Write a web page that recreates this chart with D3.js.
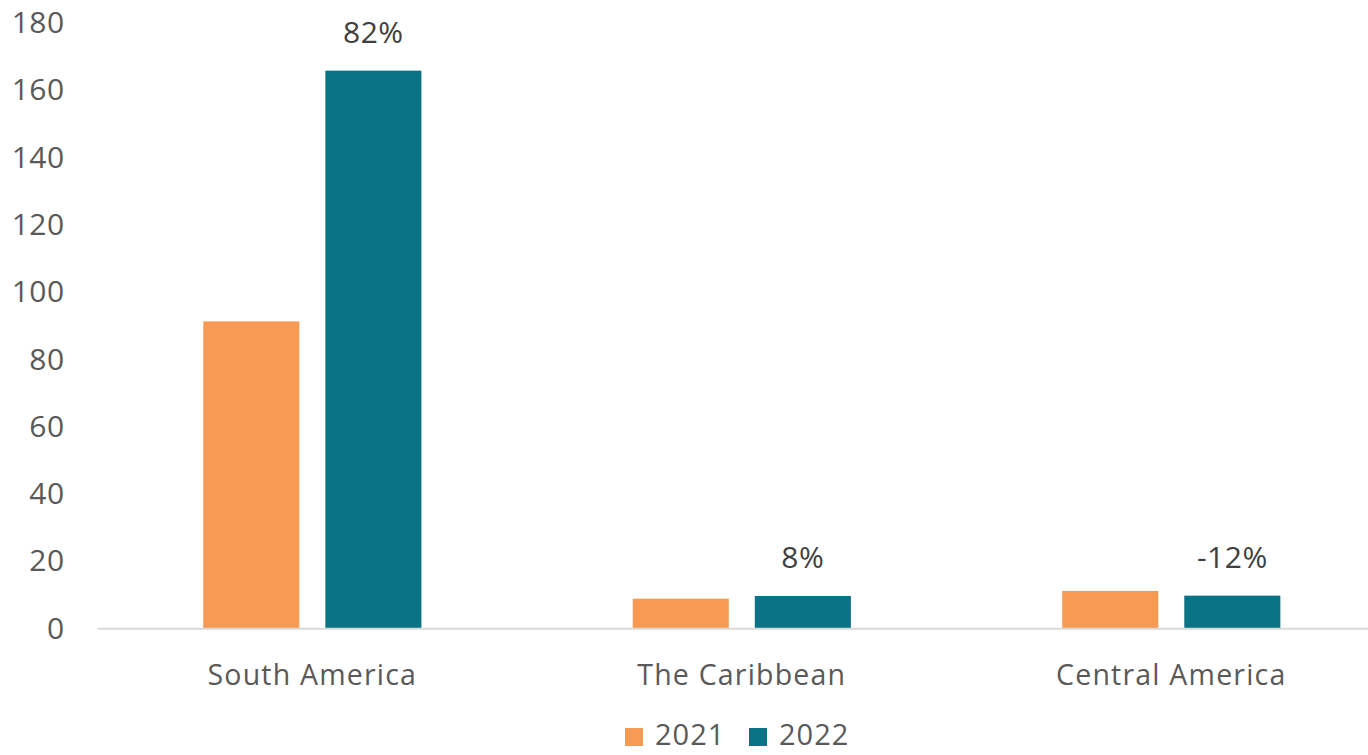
<!DOCTYPE html>
<html>
<head>
<meta charset="utf-8">
<script src="https://cdn.jsdelivr.net/npm/d3@7"></script>
<style>
  html, body { margin: 0; padding: 0; background: #fff; overflow: hidden; }
  svg { display: block; font-family: "Open Sans", sans-serif; }
</style>
</head>
<body>
<svg width="1368" height="755"></svg>
<script>
var regions = ["South America", "The Caribbean", "Central America"];
var years = ["2021", "2022"];
var values2021 = [91.2, 8.8, 11.1];
var values2022 = [165.7, 9.6, 9.7];
var growthLabels = ["82%", "8%", "-12%"];
var yTicks = [0, 20, 40, 60, 80, 100, 120, 140, 160, 180];

var colors = {"2021": "#f79b54", "2022": "#0b7386"};

var svg = d3.select("svg"),
  margin = {top: 22.5, right: -18, bottom: 126.7, left: 97.6},
  width = +svg.attr("width") - margin.left - margin.right,
  height = +svg.attr("height") - margin.top - margin.bottom,
  g = svg.append("g").attr("transform", "translate(" + margin.left + "," + margin.top + ")");

var data = regions.map(function(r, i) {
  return {region: r, "2021": values2021[i], "2022": values2022[i], label: growthLabels[i]};
});

var x0 = d3.scaleBand()
  .domain(regions)
  .range([0, width])
  .paddingInner(0.492)
  .paddingOuter(0.246);

var x1 = d3.scaleBand()
  .domain(years)
  .range([0, x0.bandwidth()])
  .paddingInner(0.213);

var y = d3.scaleLinear()
  .domain([0, 180])
  .range([height, 0]);

// y tick labels (no axis line, no gridlines)
g.append("g")
  .selectAll("text")
  .data(yTicks)
  .enter().append("text")
    .attr("x", -33)
    .attr("y", function(d) { return y(d); })
    .attr("dy", "0.35em")
    .attr("text-anchor", "end")
    .attr("font-size", 30)
    .attr("letter-spacing", 0.5)
    .attr("fill", "#595959")
    .text(function(d) { return d; });

// bars
var groups = g.append("g")
  .selectAll("g")
  .data(data)
  .enter().append("g")
    .attr("transform", function(d) { return "translate(" + x0(d.region) + ",0)"; });

groups.selectAll("rect")
  .data(function(d) { return years.map(function(k) { return {key: k, value: d[k]}; }); })
  .enter().append("rect")
    .attr("x", function(d) { return x1(d.key); })
    .attr("y", function(d) { return y(d.value); })
    .attr("width", x1.bandwidth())
    .attr("height", function(d) { return y(0) - y(d.value); })
    .attr("fill", function(d) { return colors[d.key]; });

// growth labels above 2022 bars
groups.append("text")
  .attr("x", x1("2022") + x1.bandwidth() / 2)
  .attr("y", function(d) { return y(d["2022"]) - 28; })
  .attr("text-anchor", "middle")
  .attr("font-size", 30)
  .attr("letter-spacing", 0.5)
  .attr("fill", "#404040")
  .text(function(d) { return d.label; });

// x axis line
g.append("line")
  .attr("x1", 0)
  .attr("x2", width)
  .attr("y1", y(0) + 0.5)
  .attr("y2", y(0) + 0.5)
  .attr("stroke", "#d9d9d9")
  .attr("stroke-width", 2);

// category labels
g.append("g")
  .selectAll("text")
  .data(regions)
  .enter().append("text")
    .attr("x", function(d) { return x0(d) + x0.bandwidth() / 2; })
    .attr("y", y(0) + 57)
    .attr("text-anchor", "middle")
    .attr("font-size", 28.5)
    .attr("letter-spacing", 1.2)
    .attr("fill", "#595959")
    .text(function(d) { return d; });

// legend
var legend = svg.append("g")
  .attr("transform", "translate(625,727)")
  .selectAll("g")
  .data(years)
  .enter().append("g")
    .attr("transform", function(d, i) { return "translate(" + i * 124 + ",0)"; });

legend.append("rect")
  .attr("y", 1)
  .attr("width", 18)
  .attr("height", 18)
  .attr("fill", function(d) { return colors[d]; });

legend.append("text")
  .attr("x", 30)
  .attr("y", 18)
  .attr("font-size", 29)
  .attr("letter-spacing", 1)
  .attr("fill", "#595959")
  .text(function(d) { return d; });
</script>
</body>
</html>
